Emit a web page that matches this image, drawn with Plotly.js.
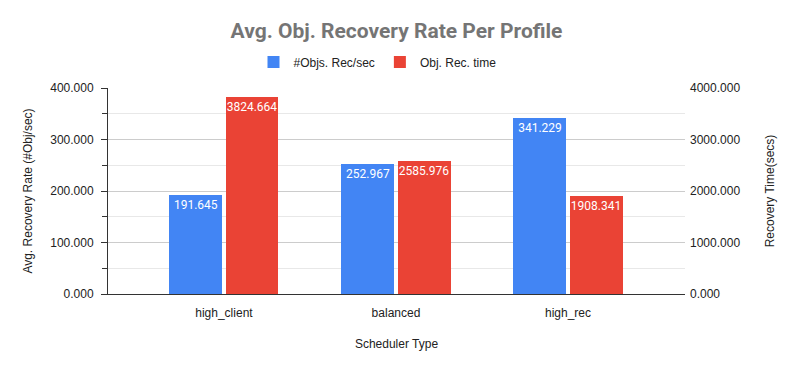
<!DOCTYPE html>
<html><head><meta charset="utf-8">
<script src="https://cdn.plot.ly/plotly-3.0.1.min.js"></script>
<style>html,body{margin:0;padding:0;background:#fff}#c{width:793px;height:371px}</style>
</head><body><div id="c"></div>
<script>
const categories = ["high_client", "balanced", "high_rec"];
const recRate = [191.645, 252.967, 341.229];
const recTime = [3824.664, 2585.976, 1908.341];
const seriesNames = ["#Objs. Rec/sec", "Obj. Rec. time"];
const leftTicks = [0, 100, 200, 300, 400];
const rightTicks = [0, 1000, 2000, 3000, 4000];

const fmt = v => v.toFixed(3);
const xi = categories.map((_, i) => i);

const labelFont = {family: "Roboto, sans-serif", size: 12, color: "#ffffff"};
const traces = [
  {type: "bar", name: seriesNames[0], x: xi, y: recRate, yaxis: "y",
   marker: {color: "#4285F4"}, width: 0.308, offset: -0.317,
   text: recRate.map(fmt), textposition: "inside", insidetextanchor: "end", textangle: 0,
   textfont: labelFont, constraintext: "none", hoverinfo: "none"},
  {type: "bar", name: seriesNames[1], x: xi, y: recTime, yaxis: "y2",
   marker: {color: "#EA4335"}, width: 0.308, offset: 0.009,
   text: recTime.map(fmt), textposition: "inside", insidetextanchor: "end", textangle: 0,
   textfont: labelFont, constraintext: "none", hoverinfo: "none"}
];

const tickFont = {family: "Liberation Sans, Arial, sans-serif", size: 12, color: "#222222"};
const layout = {
  width: 793, height: 371,
  margin: {l: 108, r: 108, t: 88, b: 77, pad: 0},
  paper_bgcolor: "#ffffff", plot_bgcolor: "#ffffff",
  showlegend: true,
  title: {text: "Avg. Obj. Recovery Rate Per Profile", x: 0.5, xanchor: "center",
          y: 1 - 31/371, yref: "container", yanchor: "middle",
          font: {family: "Roboto, sans-serif", size: 21, color: "#757575", weight: "bold"}},
  legend: {orientation: "h", x: 0.5 - 19/577, xanchor: "center", y: 1 + 26/206, yanchor: "middle",
           font: {family: "Liberation Sans, Arial, sans-serif", size: 12, color: "#222222"},
           itemwidth: 30, traceorder: "normal"},
  xaxis: {range: [-0.674, 2.68], tickmode: "array", tickvals: xi, ticktext: categories,
          tickfont: tickFont, showgrid: false, zeroline: false, ticklabelstandoff: 8,
          showline: true, linecolor: "#333333", linewidth: 1, ticks: "",
          title: {text: "Scheduler Type", font: tickFont, standoff: 20}},
  yaxis: {range: [0, 400], tickmode: "array", tickvals: leftTicks, ticktext: leftTicks.map(fmt),
          tickfont: tickFont, showgrid: true, gridcolor: "#cccccc", zeroline: false,
          showline: true, linecolor: "#333333", linewidth: 1, ticklabelstandoff: 5,
          ticks: "outside", ticklen: 6, tickcolor: "#333333",
          minor: {dtick: 50, showgrid: true, gridcolor: "#e8e8e8", ticks: "outside", ticklen: 5, tickcolor: "#333333"},
          title: {text: "Avg. Recovery Rate (#Obj/sec)", font: tickFont, standoff: 15}},
  yaxis2: {range: [0, 4000], overlaying: "y", side: "right", tickmode: "array",
           tickvals: rightTicks, ticktext: rightTicks.map(fmt), tickfont: tickFont,
           showgrid: false, zeroline: false, showline: false, ticks: "", ticklabelstandoff: 4,
           title: {text: "Recovery Time(secs)", font: tickFont, standoff: 26}},
  bargap: 0, bargroupgap: 0
};
Plotly.newPlot("c", traces, layout, {displayModeBar: false, staticPlot: true});
</script></body></html>
